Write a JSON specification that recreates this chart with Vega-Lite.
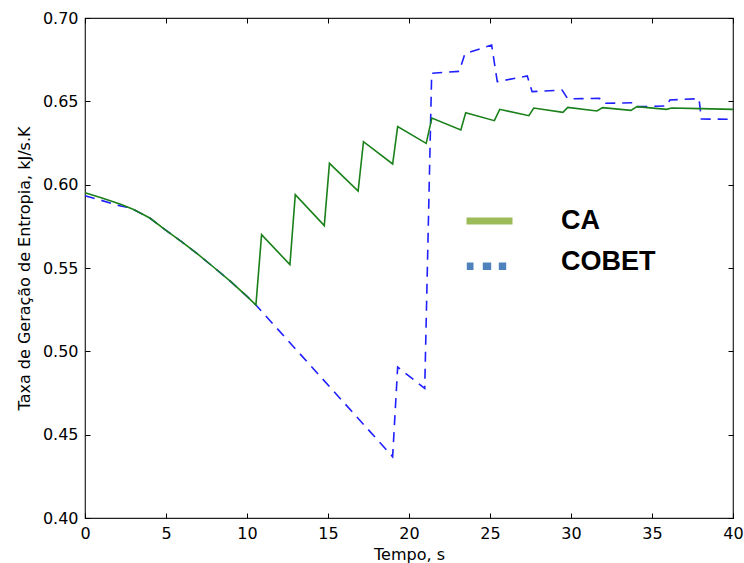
{
  "$schema": "https://vega.github.io/schema/vega-lite/v6.json",
  "width": 648,
  "height": 500,
  "autosize": {"type": "none"},
  "padding": {"left": 85, "top": 18, "right": 11, "bottom": 45},
  "background": "white",
  "datasets": {
    "ca": [
      {"t": 0, "v": 0.5952, "serie": "CA"},
      {"t": 1, "v": 0.5922, "serie": "CA"},
      {"t": 2.2, "v": 0.5882, "serie": "CA"},
      {"t": 3, "v": 0.5851, "serie": "CA"},
      {"t": 4, "v": 0.5800, "serie": "CA"},
      {"t": 5, "v": 0.5726, "serie": "CA"},
      {"t": 6, "v": 0.5655, "serie": "CA"},
      {"t": 7, "v": 0.5580, "serie": "CA"},
      {"t": 8, "v": 0.5500, "serie": "CA"},
      {"t": 9, "v": 0.5418, "serie": "CA"},
      {"t": 10, "v": 0.5330, "serie": "CA"},
      {"t": 10.55, "v": 0.5278, "serie": "CA"},
      {"t": 10.9, "v": 0.5700, "serie": "CA"},
      {"t": 12.65, "v": 0.5520, "serie": "CA"},
      {"t": 12.98, "v": 0.5940, "serie": "CA"},
      {"t": 14.77, "v": 0.5754, "serie": "CA"},
      {"t": 15.09, "v": 0.6128, "serie": "CA"},
      {"t": 16.86, "v": 0.5962, "serie": "CA"},
      {"t": 17.19, "v": 0.6258, "serie": "CA"},
      {"t": 18.99, "v": 0.6124, "serie": "CA"},
      {"t": 19.3, "v": 0.6348, "serie": "CA"},
      {"t": 21.06, "v": 0.6248, "serie": "CA"},
      {"t": 21.41, "v": 0.6400, "serie": "CA"},
      {"t": 23.2, "v": 0.6328, "serie": "CA"},
      {"t": 23.5, "v": 0.6432, "serie": "CA"},
      {"t": 25.27, "v": 0.6384, "serie": "CA"},
      {"t": 25.6, "v": 0.6452, "serie": "CA"},
      {"t": 27.4, "v": 0.6414, "serie": "CA"},
      {"t": 27.7, "v": 0.6460, "serie": "CA"},
      {"t": 29.5, "v": 0.6434, "serie": "CA"},
      {"t": 29.8, "v": 0.6464, "serie": "CA"},
      {"t": 31.6, "v": 0.6442, "serie": "CA"},
      {"t": 31.95, "v": 0.6462, "serie": "CA"},
      {"t": 33.7, "v": 0.6446, "serie": "CA"},
      {"t": 34.07, "v": 0.6468, "serie": "CA"},
      {"t": 35.9, "v": 0.6452, "serie": "CA"},
      {"t": 36.2, "v": 0.6460, "serie": "CA"},
      {"t": 38, "v": 0.6456, "serie": "CA"},
      {"t": 40, "v": 0.6452, "serie": "CA"}
    ],
    "cobet": [
      {"t": 0, "v": 0.5934, "serie": "COBET"},
      {"t": 1, "v": 0.5906, "serie": "COBET"},
      {"t": 2.2, "v": 0.5872, "serie": "COBET"},
      {"t": 2.6, "v": 0.5864, "serie": "COBET"},
      {"t": 3, "v": 0.5851, "serie": "COBET"},
      {"t": 4, "v": 0.5800, "serie": "COBET"},
      {"t": 5, "v": 0.5726, "serie": "COBET"},
      {"t": 6, "v": 0.5655, "serie": "COBET"},
      {"t": 7, "v": 0.5580, "serie": "COBET"},
      {"t": 8, "v": 0.5500, "serie": "COBET"},
      {"t": 9, "v": 0.5418, "serie": "COBET"},
      {"t": 10, "v": 0.5330, "serie": "COBET"},
      {"t": 10.55, "v": 0.5278, "serie": "COBET"},
      {"t": 18.99, "v": 0.4368, "serie": "COBET"},
      {"t": 19.3, "v": 0.4905, "serie": "COBET"},
      {"t": 20.97, "v": 0.4778, "serie": "COBET"},
      {"t": 21.4, "v": 0.6668, "serie": "COBET"},
      {"t": 23.1, "v": 0.6680, "serie": "COBET"},
      {"t": 23.45, "v": 0.6785, "serie": "COBET"},
      {"t": 25.1, "v": 0.6838, "serie": "COBET"},
      {"t": 25.45, "v": 0.6618, "serie": "COBET"},
      {"t": 27.3, "v": 0.6652, "serie": "COBET"},
      {"t": 27.6, "v": 0.6558, "serie": "COBET"},
      {"t": 29.45, "v": 0.6568, "serie": "COBET"},
      {"t": 29.8, "v": 0.6515, "serie": "COBET"},
      {"t": 31.75, "v": 0.6518, "serie": "COBET"},
      {"t": 32.0, "v": 0.6488, "serie": "COBET"},
      {"t": 33.9, "v": 0.6492, "serie": "COBET"},
      {"t": 34.1, "v": 0.6468, "serie": "COBET"},
      {"t": 35.9, "v": 0.6472, "serie": "COBET"},
      {"t": 36.1, "v": 0.6508, "serie": "COBET"},
      {"t": 37.9, "v": 0.6516, "serie": "COBET"},
      {"t": 38.05, "v": 0.6394, "serie": "COBET"},
      {"t": 40, "v": 0.6392, "serie": "COBET"}
    ]
  },
  "encoding": {
    "color": {
      "field": "serie",
      "type": "nominal",
      "scale": {"domain": ["CA", "COBET"], "range": ["#1a801a", "#1f1fff"]},
      "legend": {
        "orient": "none",
        "legendX": 391,
        "legendY": 189,
        "title": null,
        "symbolSize": 400,
        "labelFontSize": 27,
        "labelFont": "Liberation Sans",
        "labelFontWeight": "bold",
        "labelColor": "black",
        "labelOffset": 58,
        "rowPadding": 13,
        "labelLimit": 300,
        "encode": {
          "symbols": {
            "update": {
              "shape": {"signal": "datum.value === 'CA' ? 'M-2.3,-0.3H2.3V0.4H-2.3Z' : 'M-2.27,0.1H-1.6V0.85H-2.27Z M-0.67,0.1H0.17V0.85H-0.67Z M0.93,0.1H1.67V0.85H0.93Z'"},
              "fill": {"signal": "datum.value === 'CA' ? '#9bbb59' : '#4f81bd'"},
              "stroke": {"value": "transparent"},
              "strokeWidth": {"value": 0},
              "opacity": {"value": 1}
            }
          }
        }
      }
    }
  },
  "layer": [
    {
      "data": {"name": "cobet"},
      "mark": {"type": "line", "strokeDash": [10, 7], "strokeWidth": 1.6},
      "encoding": {
        "x": {
          "field": "t", "type": "quantitative",
          "scale": {"domain": [0, 40], "nice": false},
          "axis": {"orient": "bottom", "title": "Tempo, s", "values": [0, 5, 10, 15, 20, 25, 30, 35, 40], "format": "d", "titlePadding": 5}
        },
        "y": {
          "field": "v", "type": "quantitative",
          "scale": {"domain": [0.4, 0.7], "nice": false, "zero": false},
          "axis": {"orient": "left", "title": "Taxa de Geração de Entropia, kJ/s.K", "values": [0.4, 0.45, 0.5, 0.55, 0.6, 0.65, 0.7], "format": ".2f", "titlePadding": 10}
        }
      }
    },
    {
      "data": {"name": "ca"},
      "mark": {"type": "line", "strokeWidth": 1.6},
      "encoding": {
        "x": {
          "field": "t", "type": "quantitative",
          "scale": {"domain": [0, 40], "nice": false},
          "axis": {"orient": "top", "title": null, "labels": false, "values": [0, 5, 10, 15, 20, 25, 30, 35, 40]}
        },
        "y": {
          "field": "v", "type": "quantitative",
          "scale": {"domain": [0.4, 0.7], "nice": false, "zero": false},
          "axis": {"orient": "right", "title": null, "labels": false, "values": [0.4, 0.45, 0.5, 0.55, 0.6, 0.65, 0.7]}
        }
      }
    }
  ],
  "resolve": {"axis": {"x": "independent", "y": "independent"}},
  "config": {
    "view": {"stroke": "#222", "strokeWidth": 1.2},
    "axis": {
      "labelFont": "DejaVu Sans",
      "labelFontSize": 16,
      "labelColor": "black",
      "titleFont": "DejaVu Sans",
      "titleFontSize": 16,
      "titleFontWeight": "normal",
      "titleColor": "black",
      "grid": false,
      "domain": false,
      "tickColor": "black",
      "tickSize": -5,
      "tickWidth": 1,
      "labelPadding": 12,
      "labelFlush": false,
      "labelOverlap": false,
      "labelBound": false
    }
  }
}
